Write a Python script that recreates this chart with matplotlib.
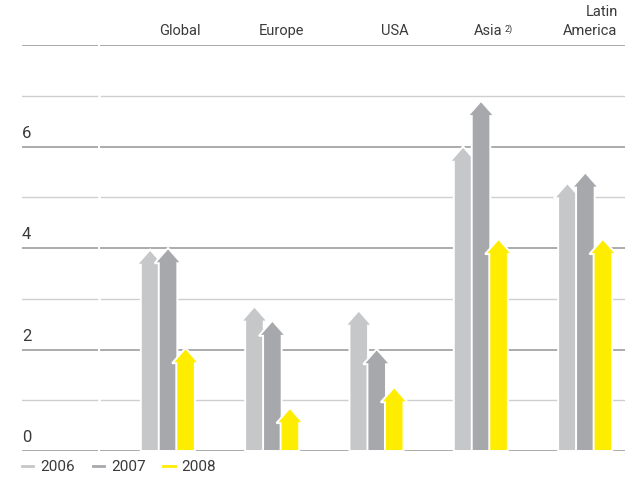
import matplotlib
matplotlib.use("Agg")
import matplotlib.pyplot as plt
from matplotlib.patches import Polygon
from matplotlib.lines import Line2D
import matplotlib.transforms as mtransforms

plt.rcParams['font.family'] = ['Roboto', 'DejaVu Sans']

categories = ["Global", "Europe", "USA", "Asia", "Latin\nAmerica"]
years = ["2006", "2007", "2008"]
v2006 = [3.97, 2.85, 2.77, 6.0, 5.28]
v2007 = [4.0, 2.57, 2.01, 6.9, 5.49]
v2008 = [2.03, 0.85, 1.26, 4.18, 4.18]
series = [v2006, v2007, v2008]
colors = ["#c6c7c9", "#a7a8ac", "#ffed00"]
yticks = [0, 2, 4, 6]
grid_levels = [0, 1, 2, 3, 4, 5, 6, 7, 8]

W, H = 632, 478
TXT = "#3a3a3a"
fig = plt.figure(figsize=(W / 100, H / 100), dpi=100)
ax = fig.add_axes([22 / W, (H - 451) / H, (625 - 22) / W, (451 - 45) / H])
ax.set_ylim(0, 8)
ax.set_xlim(-1.40, 4.38)
ax.axis("off")

# grid lines (two segments each)
split_a = (97 - 22) / 603
split_b = (101 - 22) / 603
for g in grid_levels:
    even = g % 2 == 0
    c = "#ababab" if even else "#cfcfcf"
    lw = 1.4 if even else 1.0
    ax.axhline(g, xmin=0, xmax=split_a, color=c, lw=lw, zorder=1)
    ax.axhline(g, xmin=split_b, xmax=1, color=c, lw=lw, zorder=1)

# y labels above the lines
for t in yticks:
    ax.annotate(str(t), xy=(0, t), xycoords=("axes fraction", "data"),
                xytext=(0, 4), textcoords="offset points",
                ha="left", va="bottom", fontsize=12, color=TXT)

# arrows
offsets = [-0.172, 0.0, 0.168]
w = 0.089
e = 0.04
hh = 0.30
for si, (vals, col) in enumerate(zip(series, colors)):
    for i, v in enumerate(vals):
        x = i + offsets[si]
        pts = [(x - w, 0), (x + w, 0), (x + w, v - hh), (x + w + e, v - hh),
               (x, v), (x - w - e, v - hh), (x - w, v - hh)]
        ax.add_patch(Polygon(pts, closed=True, facecolor=col, edgecolor="white",
                             lw=1.4, joinstyle="miter", zorder=3 + si))

# category labels
trans = mtransforms.blended_transform_factory(ax.transData, fig.transFigure)
FS = 10.5
for i, c in enumerate(categories):
    if c == "Asia":
        t = ax.text(i + 0.21, 1 - 31 / H, c, transform=trans, ha="right",
                    va="center", fontsize=FS, color=TXT)
        ax.annotate("2)", xy=(1, 1), xycoords=t, xytext=(1, 0),
                    textcoords="offset points", ha="left", va="top",
                    fontsize=6.5, color=TXT)
    else:
        lines = c.split("\n")
        for k, line in enumerate(reversed(lines)):
            ax.text(i + 0.31, 1 - (31 - 19 * k) / H, line, transform=trans,
                    ha="right", va="center", fontsize=FS, color=TXT)

# legend
handles = [Line2D([], [], color=c, lw=2.0) for c in colors]
leg = fig.legend(handles, years, loc="center left",
                 bbox_to_anchor=(22 / W, 11 / H),
                 ncol=3, frameon=False, fontsize=11, handlelength=0.75,
                 handletextpad=0.45, columnspacing=1.15, borderpad=0.0,
                 borderaxespad=0.0)
for txt in leg.get_texts():
    txt.set_color(TXT)

fig.savefig("out.png", dpi=100)
